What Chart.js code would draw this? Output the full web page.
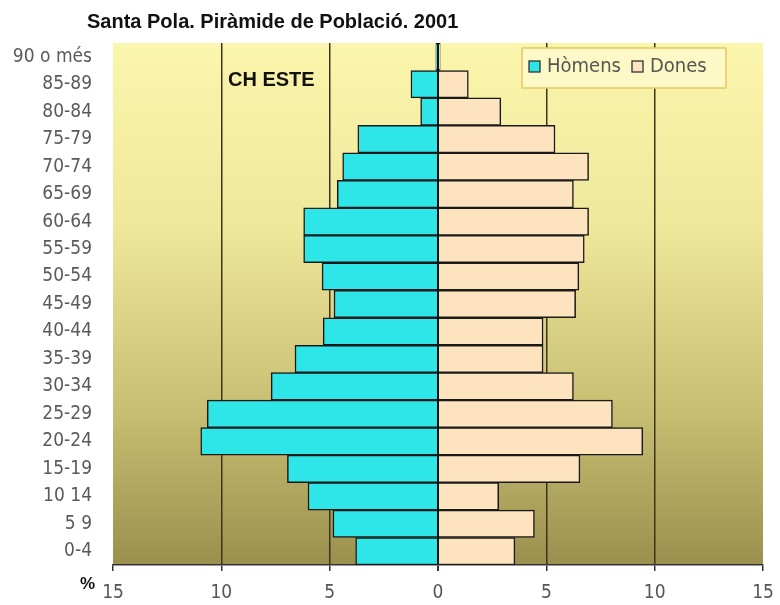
<!DOCTYPE html>
<html>
<head>
<meta charset="utf-8">
<script src="https://cdn.jsdelivr.net/npm/chart.js@4/dist/chart.umd.min.js"></script>
<style>
  body { margin: 0; background: #fff; }
  #wrap { width: 780px; height: 605px; }
</style>
</head>
<body>
<div id="wrap"><canvas id="grafico" width="780" height="605"></canvas></div>
<script>
// grups d'edat, de dalt a baix
const grups = ['90 o més', '85-89', '80-84', '75-79', '70-74', '65-69', '60-64', '55-59', '50-54',
  '45-49', '40-44', '35-39', '30-34', '25-29', '20-24', '15-19', '10 14', '5 9', '0-4'];
// percentatges
const homens = [0.1, 1.25, 0.8, 3.7, 4.4, 4.65, 6.2, 6.2, 5.35, 4.8, 5.3, 6.6, 7.7, 10.65, 10.95, 6.95, 6.0, 4.85, 3.8];
const dones = [0.1, 1.4, 2.9, 5.4, 6.95, 6.25, 6.95, 6.75, 6.5, 6.35, 4.85, 4.85, 6.25, 8.05, 9.45, 6.55, 2.8, 4.45, 3.55];
const ticksX = [-15, -10, -5, 0, 5, 10, 15];

const colorH = '#2ee6e8';
const colorD = '#fde4bf';
const lletra = '"DejaVu Sans Condensed", "DejaVu Sans", sans-serif';

const fons = {
  id: 'fons',
  beforeDraw(chart) {
    const { ctx, chartArea: a } = chart;
    const g = ctx.createLinearGradient(0, a.top, 0, a.bottom);
    g.addColorStop(0, '#fbf6ad');
    g.addColorStop(0.35, '#efe79a');
    g.addColorStop(0.7, '#c9bf72');
    g.addColorStop(1, '#9b8f4e');
    ctx.save();
    ctx.fillStyle = g;
    ctx.fillRect(a.left, a.top, a.right - a.left, a.bottom - a.top);
    ctx.restore();
  },
  afterDraw(chart) {
    const ctx = chart.ctx;
    ctx.save();
    ctx.fillStyle = '#111';
    ctx.textBaseline = 'middle';
    ctx.font = 'bold 20px "Liberation Sans", Arial, sans-serif';
    ctx.fillText('Santa Pola. Piràmide de Població. 2001', 87, 22);
    ctx.fillText('CH ESTE', 228, 80);
    ctx.font = 'bold 17px "Liberation Sans", Arial, sans-serif';
    ctx.fillText('%', 80, 584);

    // llegenda
    ctx.fillStyle = '#fdf9c6';
    ctx.fillRect(522, 48, 204, 40);
    ctx.strokeStyle = '#e9c662';
    ctx.lineWidth = 1.5;
    ctx.strokeRect(522, 48, 204, 40);
    const items = [
      { text: chart.data.datasets[0].label, color: colorH, x: 529 },
      { text: chart.data.datasets[1].label, color: colorD, x: 632 }
    ];
    ctx.font = '20px ' + lletra;
    items.forEach(it => {
      ctx.fillStyle = it.color;
      ctx.fillRect(it.x, 61, 11, 11);
      ctx.strokeStyle = '#333';
      ctx.lineWidth = 1.3;
      ctx.strokeRect(it.x, 61, 11, 11);
      ctx.fillStyle = '#555';
      ctx.fillText(it.text, it.x + 18, 67);
    });
    ctx.restore();
  }
};

const ctx = document.getElementById('grafico').getContext('2d');
const grafico = new Chart(ctx, {
  type: 'bar',
  data: {
    labels: grups,
    datasets: [{
      label: 'Hòmens',
      data: homens.map(v => -v),
      backgroundColor: colorH,
      borderColor: '#1a1a1a',
      borderWidth: 1.5,
      categoryPercentage: 1,
      barPercentage: 1
    }, {
      label: 'Dones',
      data: dones,
      backgroundColor: colorD,
      borderColor: '#1a1a1a',
      borderWidth: 1.5,
      categoryPercentage: 1,
      barPercentage: 1
    }]
  },
  options: {
    indexAxis: 'y',
    responsive: false,
    animation: false,
    layout: { padding: { top: 43, right: 17, left: 0, bottom: 0 } },
    plugins: {
      legend: { display: false },
      title: { display: false },
      tooltip: { enabled: false }
    },
    scales: {
      x: {
        stacked: true,
        min: -15,
        max: 15,
        afterFit: s => { s.height = 40; s.paddingLeft = 0; s.paddingRight = 0; },
        afterBuildTicks: s => { s.ticks = ticksX.map(v => ({ value: v })); },
        ticks: {
          callback: v => Math.abs(v),
          color: '#555',
          padding: 11,
          maxRotation: 0,
          font: { family: lletra, size: 19 }
        },
        grid: {
          color: c => (Math.abs(c.tick.value) === 15 ? 'rgba(0,0,0,0)' : (c.tick.value === 0 ? '#111' : '#3b3520')),
          lineWidth: c => (c.tick.value === 0 ? 2 : 1.5),
          tickColor: '#333',
          tickLength: 6
        },
        border: { display: true, color: '#333', width: 1.5 }
      },
      y: {
        stacked: true,
        afterFit: s => { s.width = 113; },
        ticks: {
          color: '#5a5a5a',
          padding: 13,
          autoSkip: false,
          font: { family: lletra, size: 19 }
        },
        grid: { display: false },
        border: { display: false }
      }
    }
  },
  plugins: [fons]
});
</script>
</body>
</html>
